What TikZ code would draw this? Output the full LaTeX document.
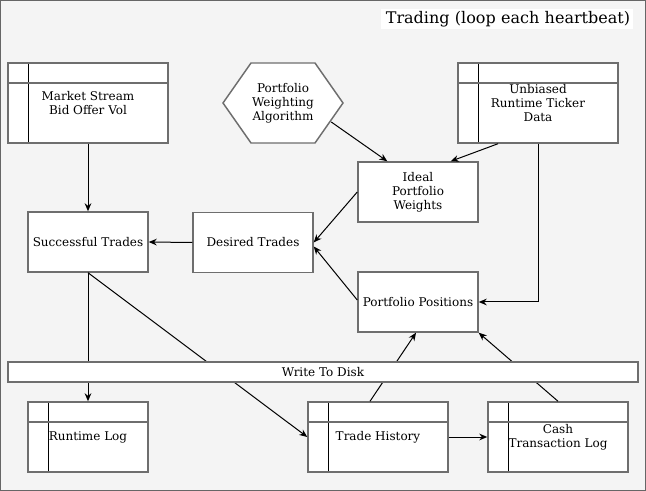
\documentclass[tikz,border=0pt]{standalone}
\usepackage{fontspec}
\setmainfont{DejaVu Serif}
\usetikzlibrary{arrows.meta}
\definecolor{framecolor}{HTML}{666666}
\definecolor{panelcolor}{HTML}{F4F4F4}
\definecolor{boxcolor}{HTML}{6E6E6E}
\tikzset{
  td edge/.style={draw=boxcolor,fill=white,line width=1.1pt},
  td box/.style={td edge,minimum width=90pt,minimum height=45pt,inner sep=0pt,
    align=center,font=\fontsize{9}{10.5}\selectfont},
  td store/.style={td box,path picture={
      \draw[black,line width=.75pt] ([xshift=15pt]path picture bounding box.north west)
        --([xshift=15pt]path picture bounding box.south west);
      \draw[boxcolor,line width=1.1pt] ([yshift=-15pt]path picture bounding box.north west)
        --([yshift=-15pt]path picture bounding box.north east);}},
  td link/.style={black,line width=.75pt,-{Stealth[length=6pt,width=5pt]}},
  td plain/.style={black,line width=.75pt}
}
\begin{document}
\begin{tikzpicture}[x=.75pt,y=-.75pt]
  \useasboundingbox (0,0) rectangle (646,491);
  \draw[framecolor,fill=panelcolor,line width=1pt] (.5,.5) rectangle (645.5,490.5);
  \node[fill=white,text width=185pt,align=right,inner xsep=2pt,inner ysep=0pt,
    minimum height=15pt,font=\fontsize{12}{14}\selectfont,anchor=east] (title) at (633,19)
    {Trading (loop each heartbeat)};
  % inputs
  \node[td store,minimum width=120pt,minimum height=60pt] (market) at (88,103) {Market Stream\\Bid Offer Vol};
  \draw[td edge] (223,103)--(251,63)--(315,63)--(343,103)--(315,143)--(251,143)--cycle;
  \node[minimum width=90pt,minimum height=60pt,inner sep=0pt,align=center,
    font=\fontsize{9}{10.5}\selectfont] (algo) at (283,103) {Portfolio\\Weighting\\Algorithm};
  \node[td store,minimum width=120pt,minimum height=60pt] (ticker) at (538,103) {Unbiased\\Runtime Ticker\\Data};
  % processing
  \node[td box] (ideal) at (418,192) {Ideal\\Portfolio\\Weights};
  \node[td box] (success) at (88,242) {Successful Trades};
  \node[td box] (desired) at (253,242.5) {Desired Trades};
  \node[td box] (positions) at (418,302) {Portfolio Positions};
  % logs
  \node[td store,minimum height=52.5pt] (runlog) at (88,437) {Runtime Log};
  \node[td store,minimum width=105pt,minimum height=52.5pt] (history) at (378,437) {Trade History};
  \node[td store,minimum width=105pt,minimum height=52.5pt] (cashlog) at (558,437) {Cash\\Transaction Log};
  % connectors
  \draw[td link] (market.south) -- (success.north);
  \draw[td link] ([shift={(-12,19)}]algo.east) -- ([shift={(30,0)}]ideal.north west);
  \draw[td link] ([shift={(-40,0)}]ticker.south) -- ([shift={(-28,0)}]ideal.north east);
  \draw[td link] (ticker.south) |- (positions.east);
  \draw[td link] (ideal.west) -- (desired.east);
  \draw[td link] ([shift={(0,-2)}]positions.west) -- ([shift={(0,4)}]desired.east);
  \draw[td link] (desired.west) -- (success.east);
  \draw[td link] (success.south) -- (runlog.north);
  \draw[td link] (success.south) -- (history.west);
  \draw[td link] ([shift={(-8,0)}]history.north) -- ([shift={(-2,0)}]positions.south);
  \draw[td link] (cashlog.north) -- (positions.south east);
  \draw[td link] (history.east) -- (cashlog.west);
  % disk bar over the links
  \node[td box,minimum width=472.5pt,minimum height=15pt] (disk) at (323,372) {Write To Disk};
\end{tikzpicture}
\end{document}
